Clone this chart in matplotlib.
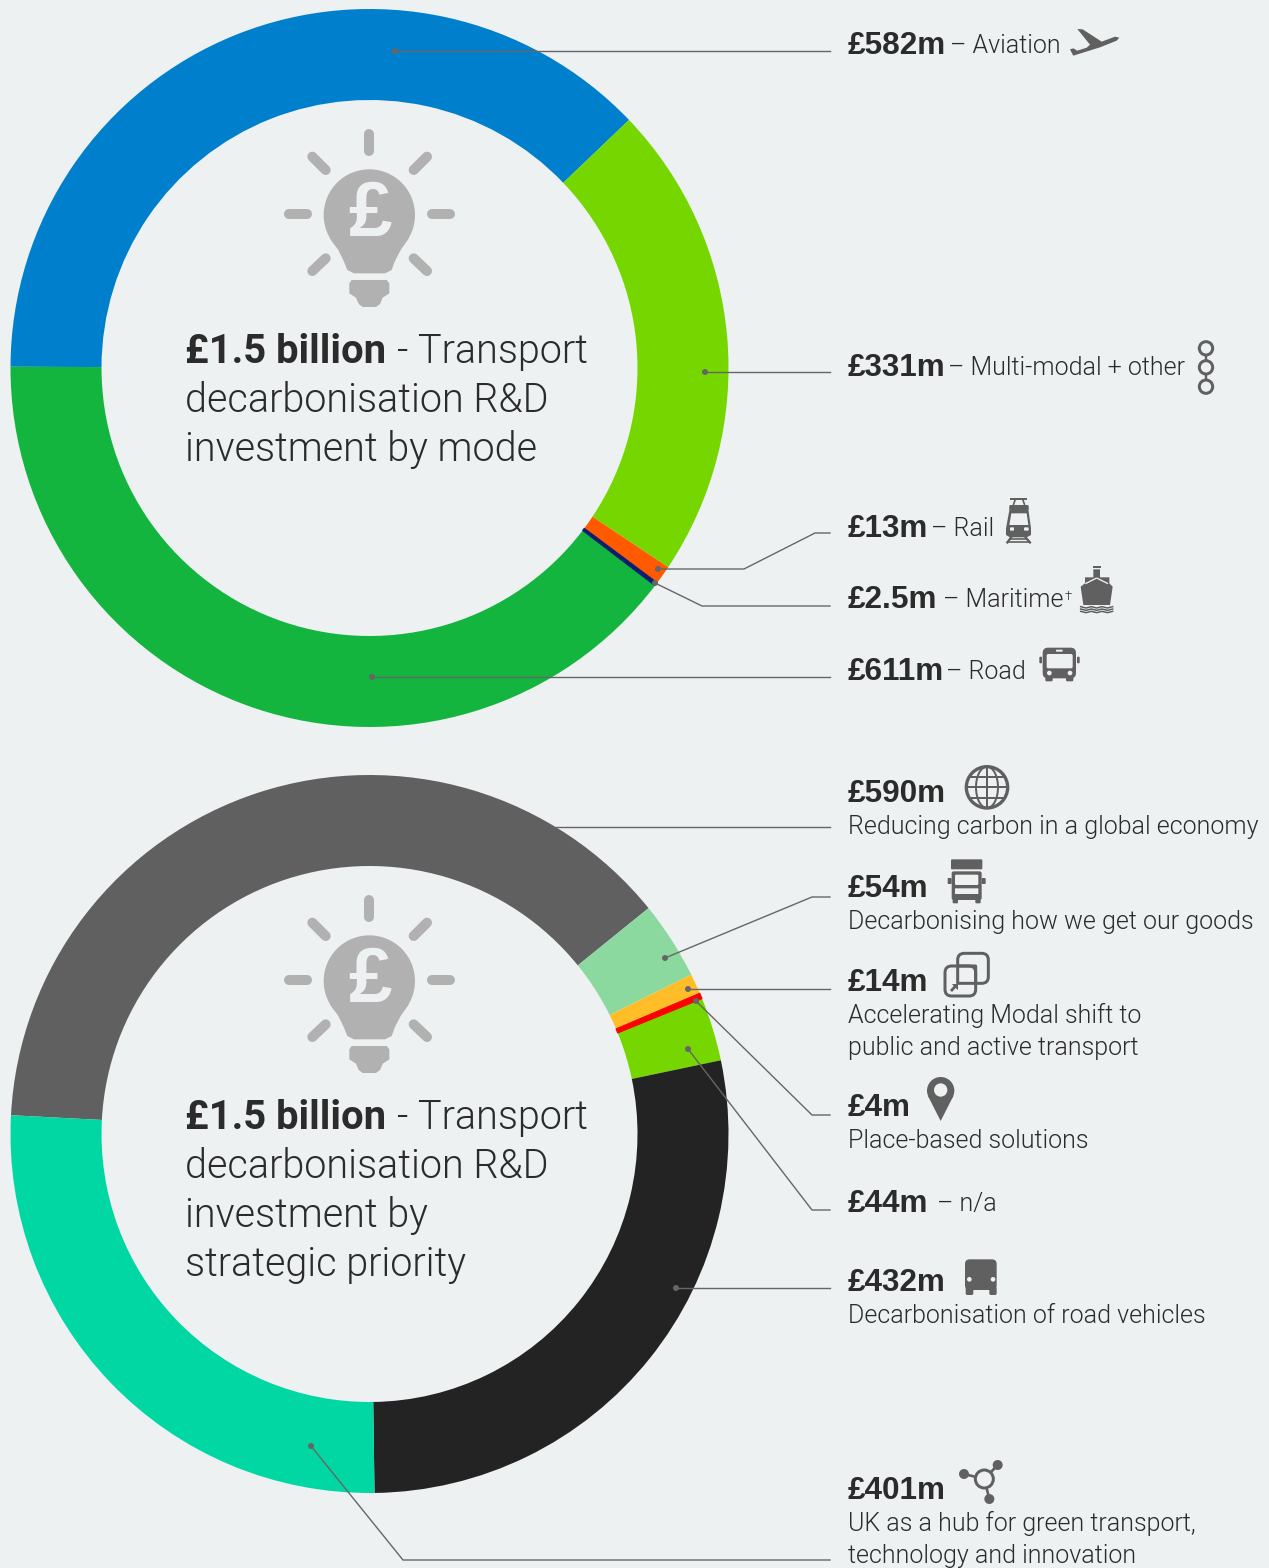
import numpy as np
import matplotlib
matplotlib.use("Agg")
import matplotlib.pyplot as plt
from matplotlib.patches import Circle, Polygon, FancyBboxPatch, Ellipse

BG = "#EDF1F2"
INK = "#2B2B2B"
ICON = "#606060"
BULB = "#B1B1B1"
W, H = 1269, 1568

mode_labels = ["Aviation", "Multi-modal + other", "Rail", "Maritime", "Road"]
mode_values = [582, 331, 13, 2.5, 611]
mode_colors = ["#0080CC", "#76D700", "#FF5A00", "#0A1E6E", "#14B53F"]

priority_labels = ["Reducing carbon in a global economy", "Decarbonising how we get our goods",
                   "Accelerating Modal shift", "Place-based solutions", "n/a",
                   "Decarbonisation of road vehicles", "UK as a hub"]
priority_values = [590, 54, 14, 4, 44, 432, 401]
priority_colors = ["#606060", "#8CD9A0", "#FFBE28", "#FF0000", "#76D700", "#232323", "#00D7A3"]

REG = dict(family=["Roboto", "DejaVu Sans"], weight=300, color=INK)
BOLD = dict(family=["Liberation Sans", "DejaVu Sans"], weight="bold", color=INK)
TBOLD = dict(family=["Roboto", "DejaVu Sans"], weight="bold", color=INK)
PX = 0.72

fig = plt.figure(figsize=(W / 100, H / 100), dpi=100, facecolor=BG)
ax = fig.add_axes([0, 0, 1, 1])


def Y(py):
    return H - py


for vals, cols, cy, start in [(mode_values, mode_colors, 368, 179.8),
                              (priority_values, priority_colors, 1134, 177)]:
    wedges, _ = ax.pie(vals, colors=cols, startangle=start, counterclock=False, center=(369.5, Y(cy)),
                       radius=359, wedgeprops=dict(width=91, linewidth=0), frame=True)
    for w, v, c in zip(wedges, vals, cols):
        if v < 5:
            w.set_edgecolor(c)
            w.set_linewidth(0.8)
            w.set_zorder(2)

ax.set_xlim(0, W)
ax.set_ylim(0, H)
ax.axis("off")


def leader(*pts, dot=True):
    xs = [p[0] for p in pts]
    ys = [Y(p[1]) for p in pts]
    ax.plot(xs, ys, color="#666666", lw=1.0, zorder=5, solid_joinstyle="miter")
    if dot:
        ax.add_patch(Circle((xs[0], ys[0]), 3, color="#666666", zorder=6, lw=0))


leader((395, 51), (830, 51))
leader((705, 372), (830, 372))
leader((658, 569), (744, 569), (815, 533), (830, 533))
leader((655, 583), (702, 606), (830, 606))
leader((372, 677), (830, 677))
leader((555, 827), (830, 827), dot=False)
leader((665, 958), (812, 897), (830, 897))
leader((688, 989), (830, 989))
leader((696, 1001), (812, 1115), (830, 1115))
leader((688, 1049), (812, 1210), (830, 1210))
leader((676, 1288), (830, 1288))
leader((311, 1446), (403, 1560), (830, 1560))


def bulb(dy):
    ox, oy = 270, 120 + dy

    def Z(x, y):
        return ox + x / 3, Y(oy + y / 3)

    rays = [((298, 42), (298, 92)), ((58, 282), (112, 282)), ((485, 282), (540, 282)),
            ((127, 110), (167, 150)), ((471, 110), (431, 150)),
            ((167, 415), (127, 453)), ((431, 415), (471, 453))]
    for a, b in rays:
        p, q = Z(*a), Z(*b)
        ax.plot([p[0], q[0]], [p[1], q[1]], color=BULB, lw=10 * PX, solid_capstyle="round", zorder=3)
    ax.add_patch(Circle(Z(298, 285), 137 / 3, color=BULB, lw=0, zorder=3))
    neck = [(180, 355), (205, 390), (222, 425), (232, 450), (252, 460), (345, 460),
            (365, 450), (374, 425), (392, 390), (416, 355)]
    ax.add_patch(Polygon([Z(*p) for p in neck], closed=True, color=BULB, lw=0, zorder=3))
    base = [(245, 480), (350, 480), (358, 490), (358, 520), (338, 533), (330, 552), (318, 561),
            (278, 561), (266, 552), (258, 533), (238, 520), (238, 490)]
    ax.add_patch(Polygon([Z(*p) for p in base], closed=True, color=BULB, lw=0, zorder=3))
    cx, cy = Z(300, 285)
    ax.text(cx, cy, "£", ha="center", va="center", fontsize=78 * PX,
            family=["Liberation Sans"], weight="bold", color=BG, zorder=4)


bulb(0)
bulb(766)

TITLE = 39.5 * PX
TB = 40 * PX
for base, lines in [(363, ["decarbonisation R&D", "investment by mode"]),
                    (1129, ["decarbonisation R&D", "investment by", "strategic priority"])]:
    ax.text(185, Y(base), "£1.5 billion", fontsize=TB, va="baseline", **TBOLD)
    ax.text(397, Y(base), "- Transport", fontsize=TITLE, va="baseline", **REG)
    for i, s in enumerate(lines):
        ax.text(185, Y(base + 49 * (i + 1)), s, fontsize=TITLE, va="baseline", **REG)

SB = 31.5 * PX
SR = 25 * PX
amount_rows = [("£582m", 54), ("£331m", 376), ("£13m", 537), ("£2.5m", 608), ("£611m", 680),
               ("£590m", 802), ("£54m", 897), ("£14m", 991), ("£4m", 1116), ("£44m", 1212),
               ("£432m", 1291), ("£401m", 1499)]
for s, b in amount_rows:
    ax.text(848, Y(b), s, fontsize=SB, va="baseline", **BOLD)

inline_rows = [("– Aviation", 950, 53), ("– Multi-modal + other", 948, 375), ("– Rail", 931, 536),
               ("– Maritime", 943, 607), ("– Road", 946, 679), ("– n/a", 937, 1211)]
for s, x, b in inline_rows:
    ax.text(x, Y(b), s, fontsize=SR, va="baseline", **REG)
ax.text(1065, Y(600), "†", fontsize=13 * PX, va="baseline", **REG)

desc_rows = [("Reducing carbon in a global economy", 834), ("Decarbonising how we get our goods", 929),
             ("Accelerating Modal shift to", 1023), ("public and active transport", 1055),
             ("Place-based solutions", 1148), ("Decarbonisation of road vehicles", 1323),
             ("UK as a hub for green transport,", 1531), ("technology and innovation", 1563)]
for s, b in desc_rows:
    ax.text(848, Y(b), s, fontsize=SR, va="baseline", **REG)


def zoomer(ox, oy):
    return lambda x, y: (ox + x / 3, Y(oy + y / 3))


def poly(Z, pts, color=ICON, z=7):
    ax.add_patch(Polygon([Z(*p) for p in pts], closed=True, color=color, lw=0, zorder=z))


def circ(Z, x, y, r, color=ICON, z=7):
    ax.add_patch(Circle(Z(x, y), r / 3, color=color, lw=0, zorder=z))


def ring(Z, x, y, r, lw=9, z=7):
    ax.add_patch(Circle(Z(x, y), r / 3, fc="none", ec=ICON, lw=lw / 3 * PX, zorder=z))


def seg(Z, a, b, lw=6, color=ICON, z=7):
    p, q = Z(*a), Z(*b)
    ax.plot([p[0], q[0]], [p[1], q[1]], color=color, lw=lw / 3 * PX, zorder=z, solid_capstyle="butt")


def rrect(Z, x0, y0, x1, y1, rad, fc=ICON, ec="none", lw=0, z=7):
    a = Z(x0, y1)
    b = Z(x1, y0)
    ax.add_patch(FancyBboxPatch((a[0] + rad / 3, a[1] + rad / 3), b[0] - a[0] - 2 * rad / 3, b[1] - a[1] - 2 * rad / 3,
                                boxstyle=f"round,pad={rad / 3}", fc=fc, ec=ec, lw=lw / 3 * PX, zorder=z))


# plane
Z = zoomer(990, 10)
poly(Z, [(262, 57), (278, 58), (335, 95), (375, 80), (388, 83), (380, 92), (330, 112), (250, 137),
         (246, 130), (240, 118), (250, 115), (262, 122), (290, 113), (300, 104)])
# chain
for y in (1015, 1072, 1130):
    ring(Z, 648, y, 20)
seg(Z, (648, 1035), (648, 1052), 7)
seg(Z, (648, 1092), (648, 1110), 7)

# rail, ship, bus
Z = zoomer(930, 490)
seg(Z, (240, 28), (292, 28), 6)
seg(Z, (256, 28), (250, 45), 5)
seg(Z, (278, 28), (284, 45), 5)
rrect(Z, 238, 45, 296, 60, 4)
poly(Z, [(240, 50), (294, 50), (303, 115), (303, 135), (290, 142), (240, 142), (228, 135), (228, 115)])
poly(Z, [(244, 70), (290, 70), (295, 105), (238, 105)], color=BG)
rrect(Z, 240, 112, 252, 122, 3, fc=BG)
rrect(Z, 282, 112, 296, 122, 3, fc=BG)
seg(Z, (245, 140), (230, 160), 7)
seg(Z, (285, 140), (302, 160), 7)
seg(Z, (240, 148), (292, 148), 5)
seg(Z, (232, 157), (300, 157), 5)
poly(Z, [(452, 290), (465, 280), (465, 262), (490, 262), (490, 238), (510, 238), (510, 262), (538, 262),
         (538, 280), (548, 290), (540, 345), (460, 345)])
seg(Z, (466, 281), (500, 264), 4, color=BG)
seg(Z, (534, 281), (500, 264), 4, color=BG)
seg(Z, (488, 232), (512, 232), 6)
wave_x = np.array([452, 468, 484, 500, 516, 532, 548])
for y0 in (352, 359, 366):
    pts = [Z(x, y0 + (2 if i % 2 else -2)) for i, x in enumerate(wave_x)]
    ax.plot([p[0] for p in pts], [p[1] for p in pts], color=ICON, lw=1.5 * PX, zorder=7)
rrect(Z, 338, 473, 438, 565, 16)
rrect(Z, 350, 492, 428, 535, 5, fc=BG)
rrect(Z, 378, 479, 398, 485, 2, fc=BG)
circ(Z, 358, 549, 7, color=BG)
circ(Z, 420, 549, 7, color=BG)
rrect(Z, 328, 500, 336, 520, 3)
rrect(Z, 441, 500, 449, 520, 3)
rrect(Z, 346, 560, 368, 574, 4)
rrect(Z, 408, 560, 430, 574, 4)

# globe, truck, squares
Z = zoomer(930, 760)
ring(Z, 171, 82, 62, lw=10)
ax.add_patch(Ellipse(Z(171, 82), 66 / 3, 124 / 3, fc="none", ec=ICON, lw=2 * PX, zorder=7))
seg(Z, (171, 20), (171, 144), 6)
seg(Z, (109, 82), (233, 82), 6)
seg(Z, (120, 50), (222, 50), 6)
seg(Z, (120, 114), (222, 114), 6)
rrect(Z, 63, 298, 157, 328, 3)
rrect(Z, 65, 334, 155, 420, 6)
rrect(Z, 75, 344, 145, 375, 4, fc=BG)
rrect(Z, 53, 354, 65, 372, 3)
rrect(Z, 155, 354, 167, 372, 3)
rrect(Z, 75, 385, 145, 402, 1, fc=BG)
rrect(Z, 68, 415, 84, 430, 3)
rrect(Z, 136, 415, 152, 430, 3)
rrect(Z, 83, 580, 175, 670, 20, fc="none", ec=ICON, lw=9)
rrect(Z, 45, 618, 137, 708, 20, fc=BG, ec=ICON, lw=9, z=8)
rrect(Z, 83, 618, 137, 670, 1, fc="none", ec=ICON, lw=9, z=8)
poly(Z, [(66, 672), (84, 672), (84, 690), (77, 684), (66, 696), (60, 690), (71, 678)], z=9)

# pin, van
Z = zoomer(920, 1070)
circ(Z, 62, 62, 41)
poly(Z, [(24, 78), (100, 78), (62, 153)])
circ(Z, 62, 60, 20, color=BG)
rrect(Z, 135, 568, 230, 660, 14)
circ(Z, 148, 628, 7, color=BG)
circ(Z, 219, 628, 7, color=BG)
rrect(Z, 137, 650, 160, 675, 5)
rrect(Z, 208, 650, 230, 675, 5)

# hub
Z = zoomer(940, 1450)
seg(Z, (72, 72), (133, 87), 8)
seg(Z, (173, 45), (133, 87), 8)
seg(Z, (148, 147), (133, 87), 8)
circ(Z, 133, 87, 30, color=BG, z=8)
ring(Z, 133, 87, 27, lw=9, z=9)
circ(Z, 72, 72, 15)
circ(Z, 173, 45, 15)
circ(Z, 148, 147, 15)

fig.savefig("out.png", dpi=100, facecolor=BG)
